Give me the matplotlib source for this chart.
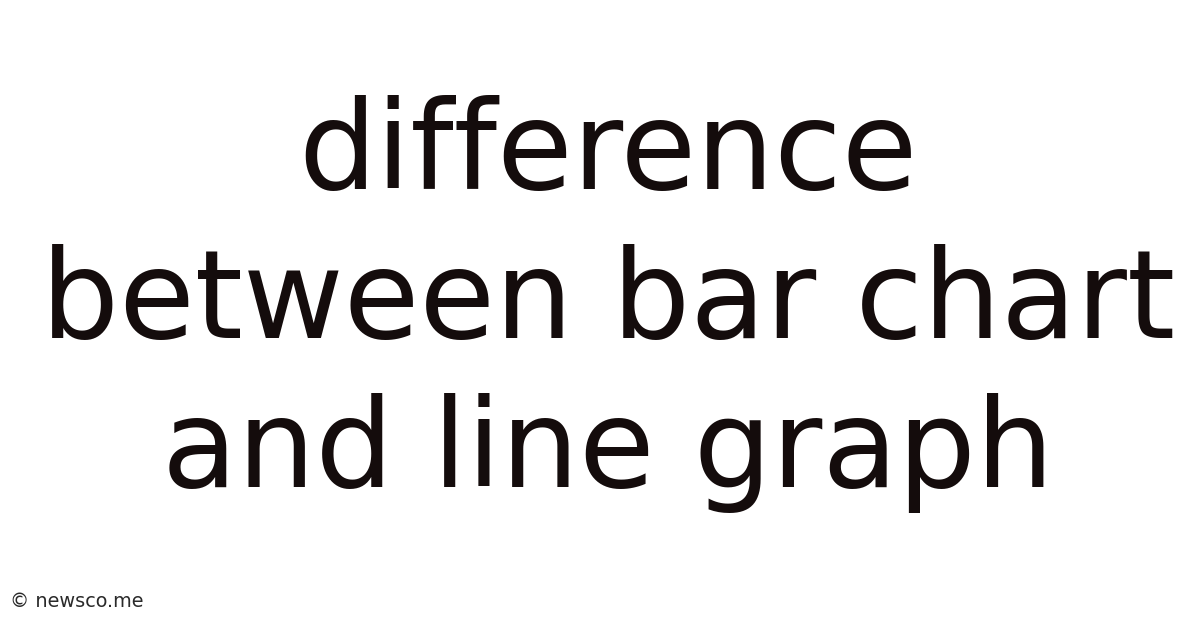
import matplotlib
matplotlib.use("Agg")
import matplotlib.pyplot as plt

title_lines = ["difference", "between bar chart", "and line graph"]
baselines_px = [189, 338, 487]
footer_text = "© newsco.me"

W, H = 1200, 628
fig = plt.figure(figsize=(W / 100, H / 100), dpi=100)
fig.patch.set_facecolor("white")

for line, by in zip(title_lines, baselines_px):
    fig.text(0.507, 1 - by / H, line, ha="center", va="baseline",
             fontsize=88.7, color="#140c0c", family="DejaVu Sans")

fig.text(10 / W, 1 - 607 / H, footer_text, ha="left", va="baseline",
         fontsize=13.9, color="#2a2a2a", family="DejaVu Sans")

fig.savefig("out.png", dpi=100, facecolor="white")
